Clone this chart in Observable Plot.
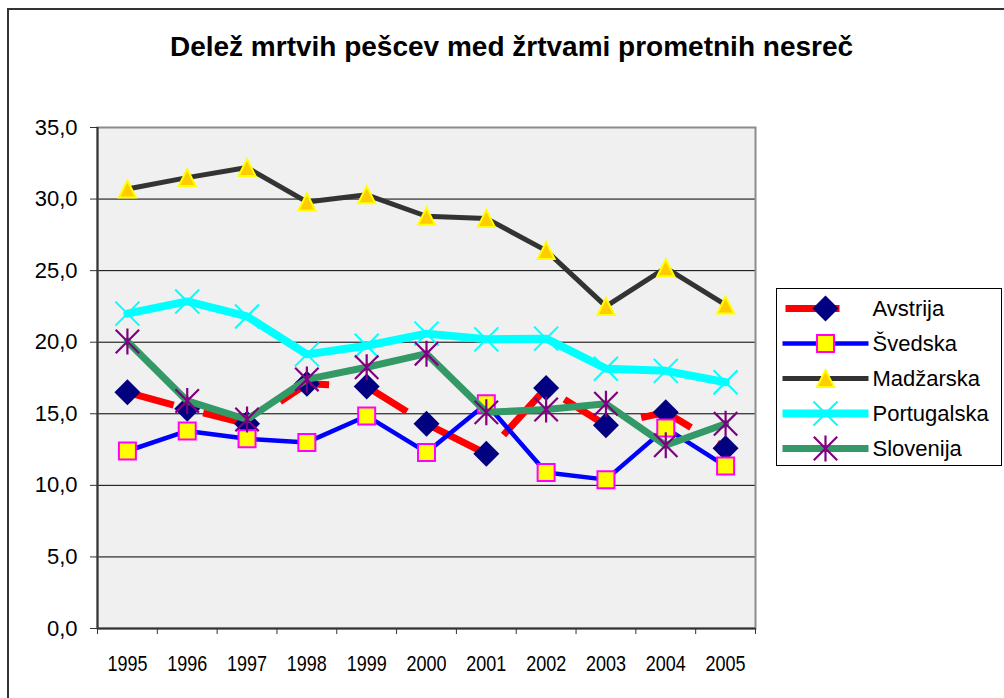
<!DOCTYPE html>
<html><head><meta charset="utf-8">
<script src="https://cdn.jsdelivr.net/npm/d3@7"></script>
<script src="https://cdn.jsdelivr.net/npm/@observablehq/plot@0.6"></script>
<style>
html,body{margin:0;padding:0;background:#fff;overflow:hidden;}
#wrap{position:relative;width:1004px;height:698px;overflow:hidden;font-family:"Liberation Sans",Arial,sans-serif;}
#chart{position:absolute;left:0;top:0;}
#frame{position:absolute;left:7px;top:8px;width:1030px;height:730px;border:2px solid #333;box-sizing:border-box;}
#title{position:absolute;left:0;top:31px;width:1023px;text-align:center;font-weight:bold;font-size:28px;line-height:32px;color:#000;}
#legend{position:absolute;left:776px;top:288px;width:226px;height:178px;border:1px solid #000;box-sizing:border-box;background:#fff;}
</style></head>
<body>
<div id="wrap">
  <div id="chart"></div>
  <div id="frame"></div>
  <div id="title">Delež mrtvih pešcev med žrtvami prometnih nesreč</div>
  <div id="legend"></div>
</div>
<script>
// ---- data ----
const years = [1995, 1996, 1997, 1998, 1999, 2000, 2001, 2002, 2003, 2004, 2005];
const seriesNames = ["Avstrija", "Švedska", "Madžarska", "Portugalska", "Slovenija"];
const avstrija    = [16.5, 15.35, 14.3, 17.1, 16.9, 14.3, 12.2, 16.8, 14.2, 15.1, 12.6];
const svedska     = [12.4, 13.8, 13.25, 13.0, 14.85, 12.3, 15.7, 10.9, 10.4, 14.0, 11.35];
const madzarska   = [30.7, 31.5, 32.2, 29.8, 30.3, 28.8, 28.65, 26.4, 22.5, 25.2, 22.6];
const portugalska = [22.0, 22.85, 21.8, 19.15, 19.75, 20.6, 20.2, 20.25, 18.15, 18.0, 17.2];
const slovenija   = [20.05, 15.9, 14.6, 17.4, 18.25, 19.2, 15.1, 15.3, 15.7, 12.8, 14.3];
const yTicks = [0, 5, 10, 15, 20, 25, 30, 35];
const gridValues = [5, 10, 15, 20, 25, 30];
const seriesValues = [avstrija, svedska, madzarska, portugalska, slovenija];

// ---- Excel-like marker symbols ----
const diamondSym = {draw(c, s){const r=Math.sqrt(s/Math.PI); c.moveTo(0,-r); c.lineTo(r,0); c.lineTo(0,r); c.lineTo(-r,0); c.closePath();}};
const squareSym  = {draw(c, s){const r=Math.sqrt(s/Math.PI); c.rect(-r,-r,2*r,2*r);}};
const triSym     = {draw(c, s){const r=Math.sqrt(s/Math.PI); c.moveTo(0,-r); c.lineTo(r,r); c.lineTo(-r,r); c.closePath();}};
const timesSym   = {draw(c, s){const r=Math.sqrt(s/Math.PI); c.moveTo(-r,-r); c.lineTo(r,r); c.moveTo(-r,r); c.lineTo(r,-r);}};
const starSym    = {draw(c, s){const r=Math.sqrt(s/Math.PI); const q=r*0.9; c.moveTo(0,-r); c.lineTo(0,r); c.moveTo(-q,-q); c.lineTo(q,q); c.moveTo(-q,q); c.lineTo(q,-q);}};

const styles = [
  {line:{stroke:"#ff0000", strokeWidth:7, strokeDasharray:"54.5,30.5", strokeDashoffset:6.5, strokeLinecap:"butt"},
   dot:{symbol:diamondSym, r:13, fill:"#000080", stroke:"none"}},
  {line:{stroke:"#0000ff", strokeWidth:4.5},
   dot:{symbol:squareSym, r:8.5, fill:"#ffff00", stroke:"#ff00ff", strokeWidth:2}},
  {line:{stroke:"#333333", strokeWidth:5},
   dot:{symbol:triSym, r:8.5, fill:"#ffcc00", stroke:"#ffff00", strokeWidth:2}},
  {line:{stroke:"#00ffff", strokeWidth:8},
   dot:{symbol:timesSym, r:12, fill:"none", stroke:"#00ffff", strokeWidth:2}},
  {line:{stroke:"#339966", strokeWidth:7},
   dot:{symbol:starSym, r:13, fill:"none", stroke:"#800080", strokeWidth:2.2}}
];

const bounds = d3.range(years.length + 1).map(i => years[0] - 0.5 + i);
const fmt = d => d.toFixed(1).replace(".", ",");

const marks = [
  Plot.frame({fill:"#f0f0f0", stroke:"none"}),
  Plot.ruleY(gridValues, {stroke:"#000", strokeWidth:1}),
  Plot.frame({stroke:"#8c8c8c", strokeWidth:2, fill:"none"}),
  Plot.ruleX([bounds[0]], {stroke:"#333", strokeWidth:2}),
  Plot.ruleY([0], {stroke:"#333", strokeWidth:2}),
  Plot.axisY({ticks: yTicks, tickSize: 7, tickPadding: 13, tickFormat: fmt, fontSize: 22, stroke:"#333", label: null, fontFamily:"Liberation Sans, Arial, sans-serif"}),
  Plot.axisX({ticks: bounds, tickSize: 6, tickFormat: () => "", stroke:"#333", label: null}),
  Plot.axisX({ticks: years, tickSize: 0, tickPadding: 27, tickFormat: d => String(d), fontSize: 22.5, label: null, fontFamily:"Liberation Sans, Arial, sans-serif"})
];
seriesNames.forEach((name, i) => {
  const data = years.map((y, j) => ({year: y, value: seriesValues[i][j], name}));
  marks.push(Plot.line(data, {x:"year", y:"value", ...styles[i].line}));
  marks.push(Plot.dot(data, {x:"year", y:"value", ...styles[i].dot}));
});

const chart = Plot.plot({
  width: 1004, height: 698,
  marginLeft: 97, marginRight: 249, marginTop: 127, marginBottom: 70,
  x: {domain: [bounds[0], bounds[bounds.length-1]], axis: null, label: null},
  y: {domain: [0, 35], axis: null, label: null},
  style: {background: "transparent", color: "#000"},
  marks
});
// condensed year labels (as in the reference)
chart.querySelectorAll('g[aria-label="x-axis tick label"] text').forEach(t => {
  if (t.textContent.trim().length) {
    t.setAttribute("textLength", "40");
    t.setAttribute("lengthAdjust", "spacingAndGlyphs");
  }
});
document.getElementById("chart").appendChild(chart);

// ---- legend ----
const lmarks = [];
seriesNames.forEach((name, i) => {
  const st = styles[i];
  const lineOpts = {...st.line};
  if (i === 0) { lineOpts.strokeDasharray = "54,32"; lineOpts.strokeDashoffset = 83; }
  lmarks.push(Plot.link([name], {x1: () => 0, x2: () => 1, y1: d => d, y2: d => d, ...lineOpts}));
  lmarks.push(Plot.dot([name], {x: () => 0.5, y: d => d, ...st.dot}));
});
lmarks.push(Plot.text(seriesNames, {x: () => 1, y: d => d, text: d => d, dx: 4, textAnchor: "start", fontSize: 22, fill: "#000", fontFamily:"Liberation Sans, Arial, sans-serif"}));
const legend = Plot.plot({
  width: 224, height: 176, margin: 0,
  x: {domain: [0, 1], range: [5, 91], axis: null},
  y: {type: "point", domain: seriesNames, range: [17, 160], padding: 0, axis: null},
  style: {background: "transparent"},
  marks: lmarks
});
document.getElementById("legend").appendChild(legend);
</script>
</body></html>
